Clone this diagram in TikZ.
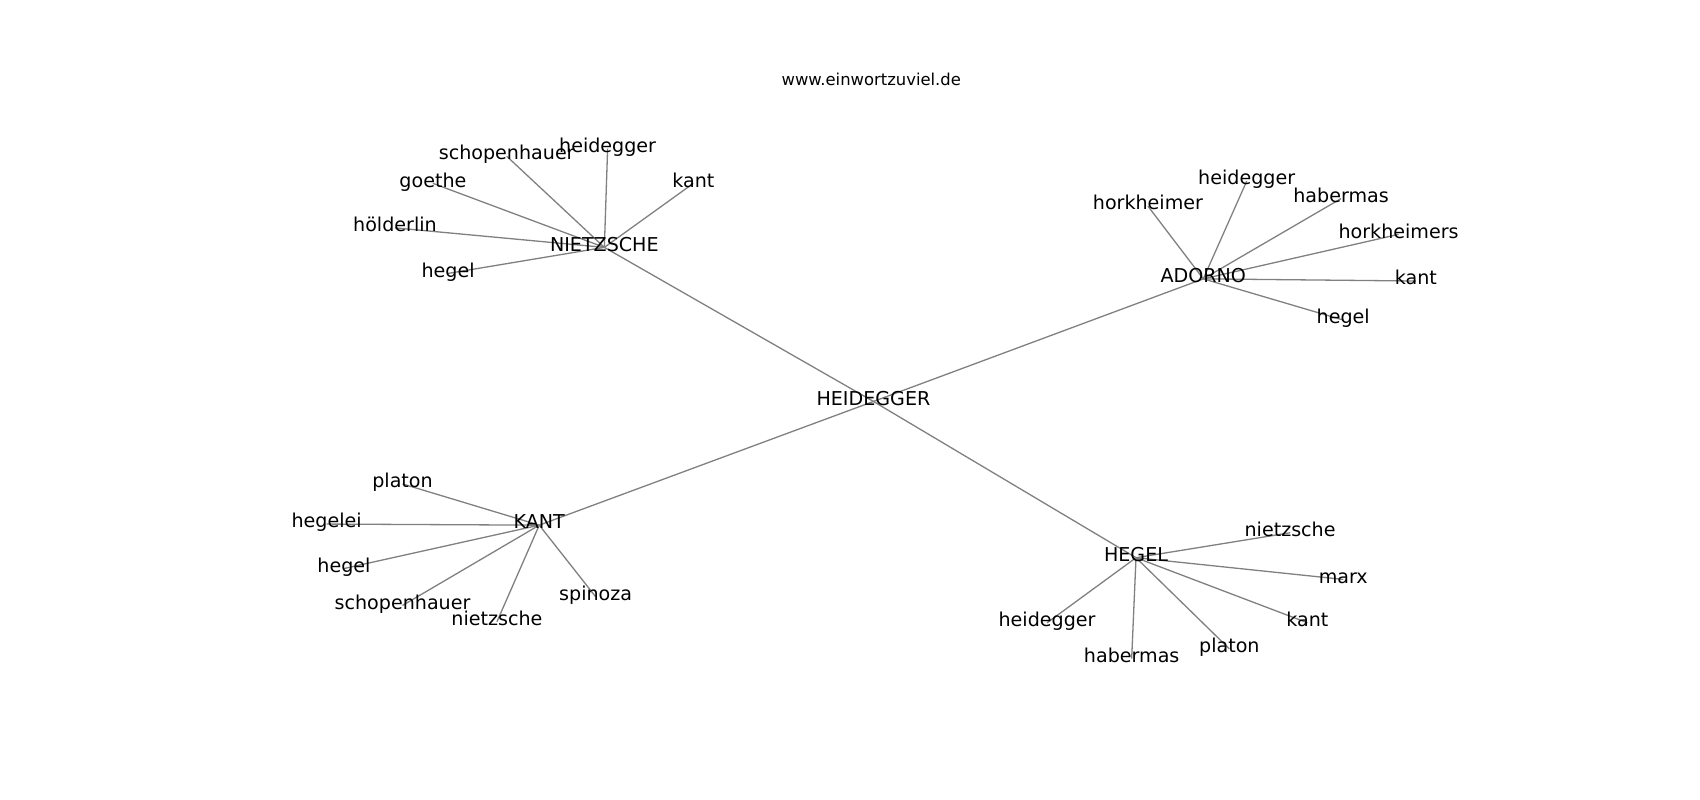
\documentclass[tikz,border=0pt]{standalone}
\usepackage{fontspec}
\setmainfont{DejaVu Sans}
\pgfdeclarelayer{background}
\pgfsetlayers{background,main}
\tikzset{
  lbl/.style={inner sep=0pt, anchor=center, text height=0.729em, text depth=0pt, font=\fontsize{19.1}{23}\selectfont, text=black},
  ttl/.style={inner sep=0pt, anchor=center, text height=0.729em, text depth=0pt, font=\fontsize{16.4}{20}\selectfont, text=black},
  edge/.style={draw=black!50, line width=1.3pt}
}
\begin{document}
\begin{tikzpicture}[x=1.085pt,y=-1.085pt]
\useasboundingbox (0,0) rectangle (1566.8,737.3);
\node[ttl] (title) at (803,75) {www.einwortzuviel.de};
% hubs
\node[lbl] (heid) at (805,370) {HEIDEGGER};
\node[lbl] (nie) at (557,228) {NIETZSCHE};
\node[lbl] (ado) at (1109,257) {ADORNO};
\node[lbl] (kan) at (497,484) {KANT};
\node[lbl] (heg) at (1047,514) {HEGEL};
% nietzsche leaves
\node[lbl] (n1) at (467,144) {schopenhauer};
\node[lbl] (n2) at (560,137) {heidegger};
\node[lbl] (n3) at (399,169) {goethe};
\node[lbl] (n4) at (639,169) {kant};
\node[lbl] (n5) at (364,210) {hölderlin};
\node[lbl] (n6) at (413,252) {hegel};
% adorno leaves
\node[lbl] (a1) at (1058,190) {horkheimer};
\node[lbl] (a2) at (1149,167) {heidegger};
\node[lbl] (a3) at (1236,183) {habermas};
\node[lbl] (a4) at (1289,216) {horkheimers};
\node[lbl] (a5) at (1305,259) {kant};
\node[lbl] (a6) at (1238,295) {hegel};
% kant leaves
\node[lbl] (k1) at (371,446) {platon};
\node[lbl] (k2) at (301,483) {hegelei};
\node[lbl] (k3) at (317,524) {hegel};
\node[lbl] (k4) at (371,558) {schopenhauer};
\node[lbl] (k5) at (458,573) {nietzsche};
\node[lbl] (k6) at (549,550) {spinoza};
% hegel leaves
\node[lbl] (h1) at (1189,491) {nietzsche};
\node[lbl] (h2) at (1238,534) {marx};
\node[lbl] (h3) at (1205,574) {kant};
\node[lbl] (h4) at (1133,598) {platon};
\node[lbl] (h5) at (1043,607) {habermas};
\node[lbl] (h6) at (965,574) {heidegger};
\begin{pgfonlayer}{background}
\foreach \a in {nie,ado,kan,heg} \draw[edge] (heid.center) -- (\a.center);
\foreach \a in {n1,n2,n3,n4,n5,n6} \draw[edge] (nie.center) -- (\a.center);
\foreach \a in {a1,a2,a3,a4,a5,a6} \draw[edge] (ado.center) -- (\a.center);
\foreach \a in {k1,k2,k3,k4,k5,k6} \draw[edge] (kan.center) -- (\a.center);
\foreach \a in {h1,h2,h3,h4,h5,h6} \draw[edge] (heg.center) -- (\a.center);
\end{pgfonlayer}
\end{tikzpicture}
\end{document}
